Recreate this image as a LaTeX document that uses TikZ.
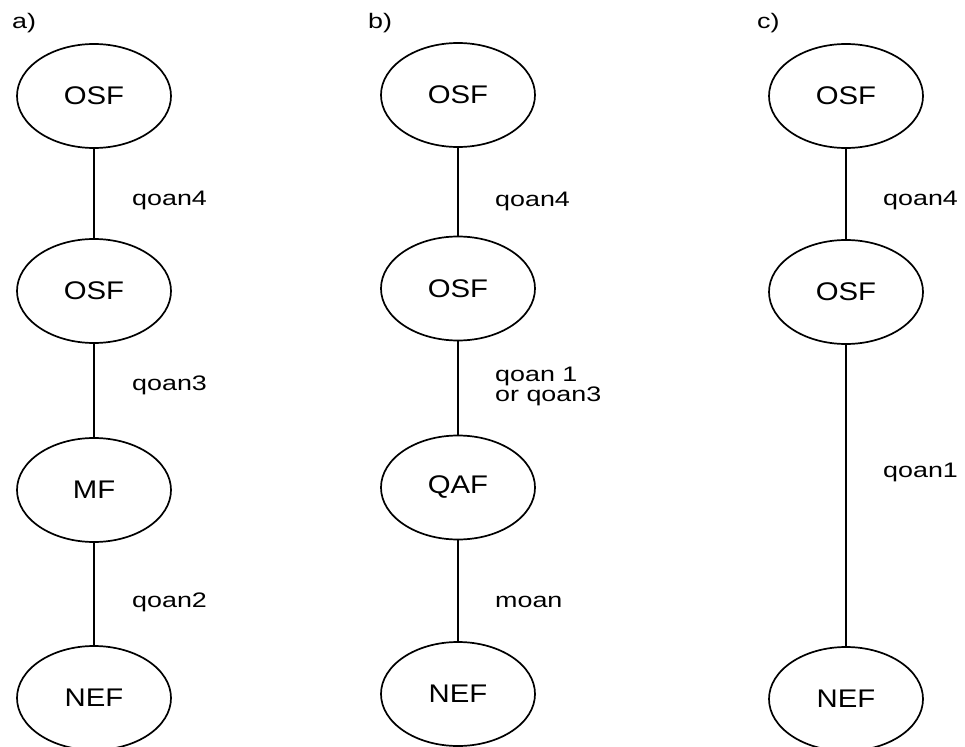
\documentclass[tikz,border=0pt]{standalone}
\usepackage{fontspec}
\usetikzlibrary{shapes.geometric}
\newfontfamily\nodefont[FakeStretch=1.15]{Liberation Sans}
\newfontfamily\labelfont[FakeStretch=1.28]{Liberation Sans}
\begin{document}
\begin{tikzpicture}[x=1pt,y=1pt,
  ell/.style={ellipse, draw, line width=1.7pt, minimum width=154pt, minimum height=104pt,
    inner sep=0pt, font=\nodefont\fontsize{25.5}{25.5}\selectfont},
  edge/.style={line width=1.7pt},
  lab/.style={anchor=base west, inner sep=0pt, align=left,
    font=\labelfont\fontsize{21}{20}\selectfont},
  panel/.style={anchor=base west, inner sep=0pt,
    font=\labelfont\fontsize{21}{20}\selectfont}]
  \useasboundingbox (0,0) rectangle (965,-746);

  % a)
  \node[panel] (pa) at (12,-29) {a)};
  \node[ell] (a1) at (94,-96)  {OSF};
  \node[ell] (a2) at (94,-291) {OSF};
  \node[ell] (a3) at (94,-490) {MF};
  \node[ell] (a4) at (94,-698) {NEF};
  \draw[edge] (a1) -- (a2);
  \draw[edge] (a2) -- (a3);
  \draw[edge] (a3) -- (a4);
  \node[lab] (la1) at (132,-205) {qoan4};
  \node[lab] (la2) at (132,-390) {qoan3};
  \node[lab] (la3) at (132,-607) {qoan2};

  % b)
  \node[panel] (pb) at (368,-29) {b)};
  \node[ell] (b1) at (458,-95)    {OSF};
  \node[ell] (b2) at (458,-288.5) {OSF};
  \node[ell] (b3) at (458,-487.5) {QAF};
  \node[ell] (b4) at (458,-694)   {NEF};
  \draw[edge] (b1) -- (b2);
  \draw[edge] (b2) -- (b3);
  \draw[edge] (b3) -- (b4);
  \node[lab] (lb1) at (495,-206) {qoan4};
  % base anchor of a two-line node sits on its last line
  \node[lab] (lb2) at (495,-401) {qoan 1\\or qoan3};
  \node[lab] (lb3) at (495,-607) {moan};

  % c)
  \node[panel] (pc) at (757,-29) {c)};
  \node[ell] (c1) at (846,-96)  {OSF};
  \node[ell] (c2) at (846,-292) {OSF};
  \node[ell] (c3) at (846,-699) {NEF};
  \draw[edge] (c1) -- (c2);
  \draw[edge] (c2) -- (c3);
  \node[lab] (lc1) at (883,-205) {qoan4};
  \node[lab] (lc2) at (883,-477) {qoan1};
\end{tikzpicture}
\end{document}
